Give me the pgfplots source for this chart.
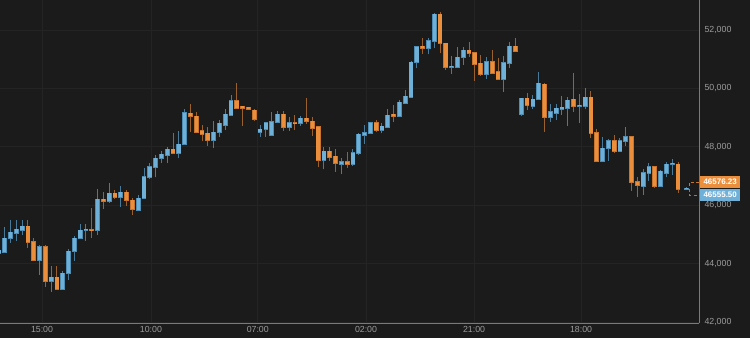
\documentclass[border=0pt]{standalone}
\usepackage{fontspec}
\setmainfont{Liberation Sans}
\usepackage{pgfplots}
\usepackage{pgfplotstable}
\pgfplotsset{compat=1.18}
\definecolor{bgc}{HTML}{1B1B1B}
\definecolor{gridc}{HTML}{242424}
\definecolor{axc}{HTML}{7A7A7A}
\definecolor{tickc}{HTML}{9C9C9C}
\definecolor{upfill}{HTML}{6FB0D8}
\definecolor{upedge}{HTML}{4E8DB4}
\definecolor{upwick}{HTML}{4A7A99}
\definecolor{dnfill}{HTML}{EC8F3D}
\definecolor{dnedge}{HTML}{C8742E}
\definecolor{dnwick}{HTML}{9A602E}

\pgfplotstableread{
i o h l c
0 44374 44500 44350 44466
1 44387 45264 44363 44867
2 44877 45493 44716 45072
3 45038 45493 44764 45175
4 45151 45493 44979 45277
7 44133 44637 43609 44579
9 43394 43918 43037 43531
11 43120 43757 43090 43668
12 43668 44500 43438 44431
13 44431 44955 44099 44866
14 44866 45346 44840 45140
15 45140 45346 44784 45175
17 45151 46545 44969 46202
19 46154 46750 46086 46408
21 46291 46658 45949 46452
24 45825 46349 45790 46236
25 46236 47264 46220 46976
26 46976 47455 46887 47318
27 47318 47719 46955 47606
28 47606 47856 47435 47743
29 47730 48003 47455 47914
31 47777 48541 47606 48086
32 48086 49284 48060 49168
37 48233 48884 47949 48507
38 48497 48918 48346 48805
39 48736 49295 48575 49113
40 49079 49774 49060 49579
45 48497 48747 48346 48599
46 48610 48860 48346 48825
47 48394 49202 48380 48860
48 48839 49236 48820 49123
50 48688 49010 48551 48825
52 48805 49065 48723 48976
56 47548 47983 47230 47856
59 47401 47606 47058 47490
61 47401 47914 47353 47798
62 47798 48462 47719 48428
63 48394 48736 48096 48483
64 48462 48850 48440 48825
66 48575 48825 48462 48712
67 48688 49295 48634 49089
69 49065 49603 49050 49524
70 49511 49946 49466 49740
71 49716 50949 49700 50894
72 50894 51453 50689 51429
74 51394 51737 51168 51634
75 51634 52573 51374 52538
78 50723 51110 50494 50768
79 50744 51429 50730 51066
80 51066 51429 50802 51316
84 50494 51086 50322 50915
87 50312 51110 49887 50881
88 50860 51579 50689 51453
90 49113 49682 49065 49661
92 49398 49774 49284 49627
93 49627 50572 49610 50175
95 49010 49466 48860 49202
96 49147 49466 48918 49319
97 49295 49740 49089 49353
98 49319 49696 48713 49603
100 49387 49798 48805 49432
101 49398 50004 49295 49696
104 47524 48346 47514 47949
105 47949 48257 47514 48209
107 47867 48312 47856 48209
108 48209 48688 48027 48346
111 46668 47230 46349 47113
112 47113 47435 46839 47318
114 46668 47206 46650 47171
115 47113 47490 46955 47411
116 47401 47572 47034 47435
118.5 46555.5 46610 46540 46576.23
}\up

\pgfplotstableread{
i o h l c
5 45277 45493 44544 44729
6 44750 44887 44123 44133
8 44579 44627 43209 43394
10 43531 43918 43100 43120
16 45168 45894 44866 45140
18 46202 46442 45860 46154
20 46408 46521 46223 46291
22 46452 46521 45983 46178
23 46178 46236 45664 45860
30 47914 48483 47770 47777
33 49147 49456 48517 49055
34 49055 49182 48462 48517
35 48551 48747 48209 48438
36 48462 48668 48027 48233
41 49579 50195 49305 49329
42 49387 49387 48723 49339
43 49353 49353 49305 49305
44 49260 49284 48894 48942
49 49123 49236 48551 48688
51 48832 49089 48575 48805
53 48976 49661 48781 48894
54 48884 49031 48380 48634
55 48688 48712 47298 47548
57 47856 48003 47514 47661
58 47685 47925 47147 47435
60 47490 47832 47284 47401
65 48825 48918 48517 48575
68 49113 49432 48839 49065
73 51453 51716 51179 51394
76 52538 52607 51203 51545
77 51545 51566 50631 50744
81 51316 51579 51086 51203
82 51223 51257 50264 50826
83 50860 51144 50425 50494
85 50915 51316 50494 50518
86 50572 51052 50288 50322
89 51453 51737 51257 51292
91 49661 49833 49260 49432
94 50151 50175 48517 49031
99 49627 50518 49202 49398
102 49696 49911 48312 48483
103 48483 48599 47514 47524
106 48209 48404 47777 47867
109 48346 48370 46497 46805
110 46805 46955 46271 46692
113 47318 47343 46599 46658
117 47411 47490 46428 46545
}\dn

\pgfplotsset{
  candle/.style={only marks, mark=*, mark size=0pt, mark options={draw=none, fill=none}},
}

\begin{document}
\begin{tikzpicture}[x=1bp,y=1bp]
\fill[bgc] (0,-15) rectangle (750,323);
\begin{axis}[
  at={(0,0)}, anchor=south west,
  scale only axis, width=699.3bp, height=323bp,
  xmin=0.19, xmax=120.67, ymin=41966, ymax=53028,
  axis x line*=bottom, axis y line*=right,
  axis line style={axc, line width=0.9bp},
  major tick length=0pt,
  xtick={7.43,26.2,44.6,63.25,81.86,100.3},
  xticklabels={15:00,10:00,07:00,02:00,21:00,18:00},
  ytick={42000,44000,46000,48000,50000,52000},
  scaled y ticks=false,
  yticklabel pos=right,
  grid=major, grid style={gridc, line width=0.8bp},
  tick label style={font=\fontsize{8.8bp}{10bp}\selectfont, text=tickc},
  xticklabel style={inner sep=0pt, anchor=north, yshift=-3.5bp},
  yticklabel style={inner sep=0pt, anchor=west, xshift=5bp},
  /pgf/number format/assume math mode=true,
  /pgf/number format/fixed,
  /pgf/number format/precision=0,
  /pgf/number format/1000 sep={,},
  clip mode=individual,
]
% wicks
\addplot[candle, error bars/.cd, y dir=plus, y explicit, error mark=none,
  error bar style={draw=upwick, line width=1bp}]
  table[x=i, y=l, y error plus expr=\thisrow{h}-\thisrow{l}] {\up};
\addplot[candle, error bars/.cd, y dir=plus, y explicit, error mark=none,
  error bar style={draw=dnwick, line width=1bp}]
  table[x=i, y=l, y error plus expr=\thisrow{h}-\thisrow{l}] {\dn};
% body outlines
\addplot[candle, error bars/.cd, y dir=both, y explicit, error mark=none,
  error bar style={draw=upedge, line width=4.8bp, line cap=butt}]
  table[x=i, y=o, y error plus expr=\thisrow{c}-\thisrow{o}+15, y error minus expr=15] {\up};
\addplot[candle, error bars/.cd, y dir=both, y explicit, error mark=none,
  error bar style={draw=dnedge, line width=4.8bp, line cap=butt}]
  table[x=i, y=c, y error plus expr=\thisrow{o}-\thisrow{c}+15, y error minus expr=15] {\dn};
% body fills
\addplot[candle, error bars/.cd, y dir=plus, y explicit, error mark=none,
  error bar style={draw=upfill, line width=3.4bp, line cap=butt}]
  table[x=i, y=o, y error plus expr=\thisrow{c}-\thisrow{o}] {\up};
\addplot[candle, error bars/.cd, y dir=plus, y explicit, error mark=none,
  error bar style={draw=dnfill, line width=3.4bp, line cap=butt}]
  table[x=i, y=c, y error plus expr=\thisrow{o}-\thisrow{c}] {\dn};
% current price markers
\draw[dnedge, line width=1bp, dash pattern=on 3bp off 2.5bp]
  (axis cs:120.67,46784) -- (axis cs:118.9,46784) -- (axis cs:118.9,46569);
\draw[upedge, line width=1bp, dash pattern=on 3bp off 2.5bp]
  (axis cs:118.9,46569) -- (axis cs:118.9,46349) -- (axis cs:120.67,46349);
\coordinate (pa) at (axis cs:120.67,46788);
\coordinate (pb) at (axis cs:120.67,46350);
\end{axis}
\node[fill=dnfill, text=white, anchor=west, minimum width=40bp, minimum height=11.5bp,
  inner sep=0pt, font=\fontsize{8bp}{9bp}\selectfont\bfseries, xshift=0.7bp] at (pa) {46576.23};
\node[fill=upfill, text=white, anchor=west, minimum width=40bp, minimum height=12.5bp,
  inner sep=0pt, font=\fontsize{8bp}{9bp}\selectfont\bfseries, xshift=0.7bp] at (pb) {46555.50};
\pgfresetboundingbox
\path (0,-15) rectangle (750,323);
\end{tikzpicture}
\end{document}
